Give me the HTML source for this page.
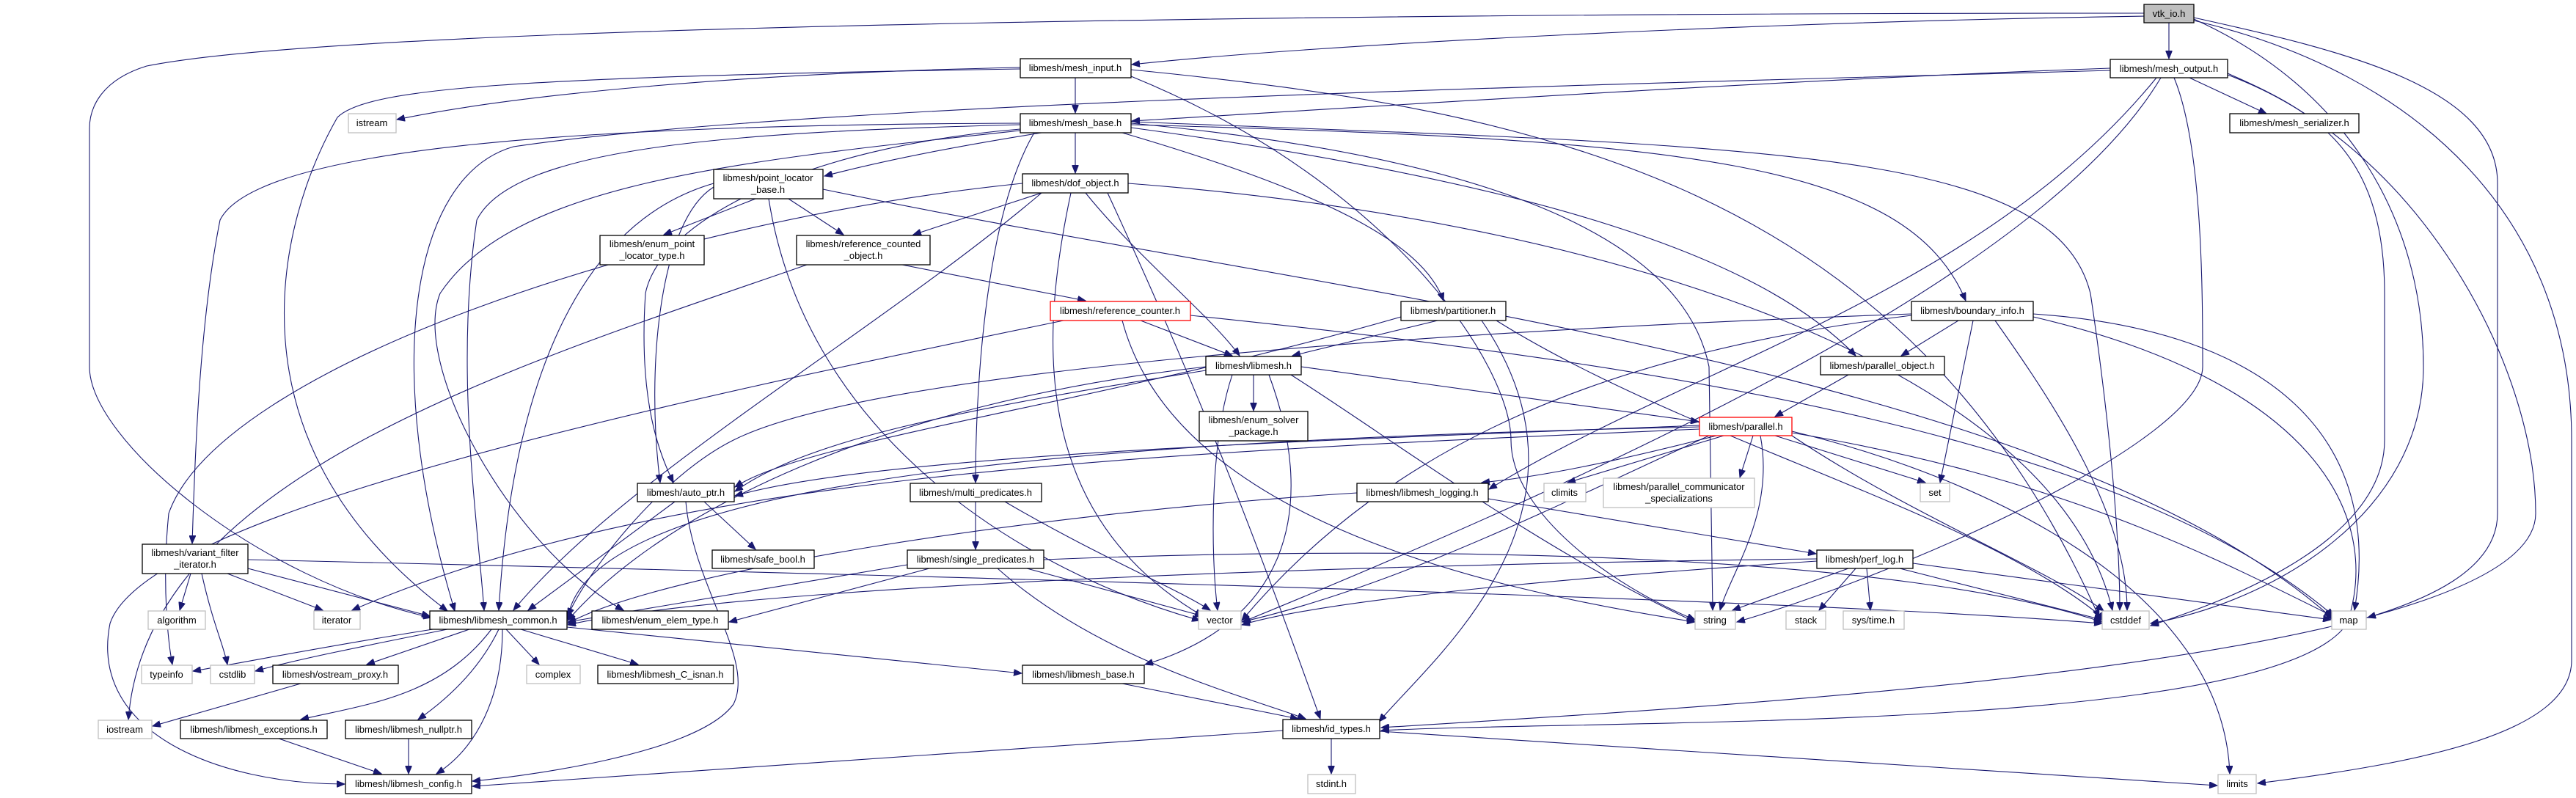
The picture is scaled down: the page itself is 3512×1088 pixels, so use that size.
<!DOCTYPE html>
<html><head><meta charset="utf-8"><style>
html,body{margin:0;padding:0;background:#fff;}
svg{display:block;}
text{font-family:"Liberation Sans",sans-serif;font-size:13px;fill:#000;text-anchor:middle;}
.e{fill:none;stroke:#191970;stroke-width:1.1;marker-end:url(#a);}
.n{fill:#fff;stroke:#000;stroke-width:1.3;}
.x{fill:#fff;stroke:#bfbfbf;stroke-width:1.3;}
.r{fill:#fff;stroke:#ff0000;stroke-width:1.3;}
</style></head><body>
<svg width="3512" height="1088" viewBox="0 0 3512 1088" xmlns="http://www.w3.org/2000/svg">
<defs><marker id="a" markerWidth="12" markerHeight="9" refX="11" refY="4.5" orient="auto" markerUnits="userSpaceOnUse"><path d="M0,0 L11,4.5 L0,9 Z" fill="#191970" stroke="#191970"/></marker></defs>
<g>
<path class="e" d="M2957,31 L2957,80"/>
<path class="e" d="M2923,22 C2400,30 1800,60 1543,88"/>
<path class="e" d="M2923,18 C2000,18 500,30 200,90 C135,110 122,150 122,175 L122,500 C122,600 350,790 588,842"/>
<path class="e" d="M2991,24 C3200,70 3405,120 3405,250 L3405,700 C3405,780 3300,820 3228,842"/>
<path class="e" d="M2991,26 C3200,120 3304,300 3304,500 C3304,700 3100,820 2932,850"/>
<path class="e" d="M2991,28 C3300,100 3506,300 3506,600 L3506,900 C3506,1000 3300,1040 3078,1068"/>
<path class="e" d="M2877,93 C2400,110 1800,150 1543,165"/>
<path class="e" d="M2985,106 L3090,155"/>
<path class="e" d="M2877,96 C2200,115 1100,140 700,200 C560,240 520,500 620,833"/>
<path class="e" d="M2946,106 C2800,350 2300,600 1694,848"/>
<path class="e" d="M2964,106 C3003,200 3003,400 3003,500 C3003,600 2600,780 2368,848"/>
<path class="e" d="M3037,100 C3150,150 3251,200 3251,400 L3251,600 C3251,750 3000,830 2932,853"/>
<path class="e" d="M2940,106 C2700,400 2300,500 2030,667"/>
<path class="e" d="M3037,102 C3300,200 3457,500 3457,700 C3457,900 2400,960 1883,992"/>
<path class="e" d="M1466,106 L1466,154"/>
<path class="e" d="M1391,92 C1000,100 700,130 541,163"/>
<path class="e" d="M1391,94 C700,105 500,120 460,160 C380,300 300,600 610,833"/>
<path class="e" d="M1542,95 C2100,150 2600,250 2862,842"/>
<path class="e" d="M1542,104 C1900,250 2060,500 2060,600 C2060,700 2200,800 2311,845"/>
<path class="e" d="M1420,181 C1300,200 1200,220 1124,240"/>
<path class="e" d="M1466,181 L1466,236"/>
<path class="e" d="M1530,181 C1800,260 1940,330 1968,410"/>
<path class="e" d="M1542,170 C2300,190 2600,220 2680,410"/>
<path class="e" d="M1542,174 C2100,250 2400,350 2530,485"/>
<path class="e" d="M1391,170 C1000,180 700,200 650,300 C620,500 650,700 660,832"/>
<path class="e" d="M1391,176 C1100,200 900,300 880,400 C870,550 900,620 918,658"/>
<path class="e" d="M1391,168 C800,170 350,200 300,300 C270,450 265,650 262,741"/>
<path class="e" d="M1410,181 C1340,300 1330,550 1330,658"/>
<path class="e" d="M1391,178 C1000,220 700,250 600,400 C560,500 700,750 850,832"/>
<path class="e" d="M1542,166 C2400,200 2800,200 2850,400 C2880,600 2890,750 2890,832"/>
<path class="e" d="M1542,168 C2100,220 2300,350 2330,500 L2335,832"/>
<path class="e" d="M1030,271 L905,320"/>
<path class="e" d="M1075,271 L1150,320"/>
<path class="e" d="M973,250 C800,300 700,500 680,832"/>
<path class="e" d="M973,255 C900,300 880,500 900,658"/>
<path class="e" d="M1048,271 C1100,600 1400,780 1636,846"/>
<path class="e" d="M1122,258 C1800,400 2800,500 3182,845"/>
<path class="e" d="M1420,263 L1245,320"/>
<path class="e" d="M1480,263 C1550,350 1650,430 1690,485"/>
<path class="e" d="M1420,263 C1200,450 850,650 700,832"/>
<path class="e" d="M1460,263 C1420,450 1400,700 1640,840"/>
<path class="e" d="M1510,263 C1620,500 1700,700 1800,980"/>
<path class="e" d="M1538,250 C2200,300 2800,500 2880,832"/>
<path class="e" d="M1394,250 C900,300 300,500 230,700 C220,800 230,880 235,906"/>
<path class="e" d="M1230,361 L1480,410"/>
<path class="e" d="M1100,361 C700,500 200,650 175,981"/>
<path class="e" d="M1555,437 L1680,485"/>
<path class="e" d="M1530,437 C1600,700 2000,800 2311,848"/>
<path class="e" d="M1623,430 C2300,500 2900,600 3182,840"/>
<path class="e" d="M1450,437 C900,550 200,700 150,850 C120,1000 300,1069 470,1069"/>
<path class="e" d="M1960,437 L1762,485"/>
<path class="e" d="M1910,432 C1500,550 1100,600 1002,664"/>
<path class="e" d="M2040,437 C2300,600 2700,700 2870,845"/>
<path class="e" d="M2020,437 C2200,700 1950,900 1880,984"/>
<path class="e" d="M2670,437 L2592,485"/>
<path class="e" d="M2690,437 L2645,658"/>
<path class="e" d="M2772,428 C3100,450 3250,600 3210,832"/>
<path class="e" d="M2720,437 C2800,550 2900,700 2900,832"/>
<path class="e" d="M2606,430 C2200,480 1900,600 1693,846"/>
<path class="e" d="M2606,428 C2000,450 1200,500 1000,600 C900,650 800,780 774,840"/>
<path class="e" d="M2772,432 C3150,520 3250,700 3200,850 C3100,1000 2200,980 1883,996"/>
<path class="e" d="M2520,511 L2420,568"/>
<path class="e" d="M1709,511 L1709,560"/>
<path class="e" d="M1774,500 L2316,575"/>
<path class="e" d="M1644,500 C1200,550 900,700 774,846"/>
<path class="e" d="M1644,505 C1300,560 1100,600 1002,670"/>
<path class="e" d="M1680,511 C1650,600 1650,750 1660,832"/>
<path class="e" d="M1760,511 C1900,600 2100,750 2311,848"/>
<path class="e" d="M1730,511 C1800,700 1750,850 1561,906"/>
<path class="e" d="M2317,580 C1800,600 1200,620 1002,676"/>
<path class="e" d="M2340,594 C2200,630 2100,650 2020,658"/>
<path class="e" d="M2350,594 L2137,658"/>
<path class="e" d="M2390,594 L2372,651"/>
<path class="e" d="M2420,594 L2625,658"/>
<path class="e" d="M2443,590 C2800,650 3000,750 3180,840"/>
<path class="e" d="M2443,594 C2600,700 2800,780 2868,833"/>
<path class="e" d="M2400,594 C2420,700 2360,780 2345,832"/>
<path class="e" d="M2330,594 C2100,700 1900,800 1693,848"/>
<path class="e" d="M2443,588 C2700,650 3030,800 3040,1055"/>
<path class="e" d="M2317,585 C1500,620 900,650 480,832"/>
<path class="e" d="M2317,582 C1500,600 800,650 774,844"/>
<path class="e" d="M1850,672 C1400,700 900,780 774,850"/>
<path class="e" d="M2029,680 L2476,755"/>
<path class="e" d="M2477,762 C1800,770 1000,800 774,852"/>
<path class="e" d="M2477,765 C2100,790 1800,820 1693,852"/>
<path class="e" d="M2520,775 L2362,832"/>
<path class="e" d="M2530,775 L2480,832"/>
<path class="e" d="M2545,775 L2550,832"/>
<path class="e" d="M2590,775 L2866,845"/>
<path class="e" d="M2608,768 L3178,845"/>
<path class="e" d="M1330,684 L1330,749"/>
<path class="e" d="M1370,684 C1500,760 1600,800 1650,832"/>
<path class="e" d="M1237,770 L774,848"/>
<path class="e" d="M1267,775 L994,848"/>
<path class="e" d="M1400,775 L1640,840"/>
<path class="e" d="M1423,763 C2000,740 2600,760 2866,848"/>
<path class="e" d="M1360,775 C1500,900 1700,950 1780,980"/>
<path class="e" d="M920,684 L720,832"/>
<path class="e" d="M960,684 L1030,749"/>
<path class="e" d="M935,684 C945,800 1030,900 1000,960 C950,1030 700,1060 644,1065"/>
<path class="e" d="M260,782 L245,832"/>
<path class="e" d="M310,782 L440,832"/>
<path class="e" d="M338,775 L586,840"/>
<path class="e" d="M275,782 C290,850 305,880 310,906"/>
<path class="e" d="M338,763 C1500,790 2500,820 2866,850"/>
<path class="e" d="M590,858 C450,880 350,900 263,915"/>
<path class="e" d="M610,858 C500,880 400,900 348,915"/>
<path class="e" d="M640,858 L500,906"/>
<path class="e" d="M690,858 L735,906"/>
<path class="e" d="M710,858 L870,906"/>
<path class="e" d="M670,858 C600,950 500,960 410,981"/>
<path class="e" d="M680,858 C650,920 600,960 570,981"/>
<path class="e" d="M685,858 C685,950 650,1020 595,1055"/>
<path class="e" d="M773,855 L1393,918"/>
<path class="e" d="M410,932 L208,990"/>
<path class="e" d="M380,1007 L520,1055"/>
<path class="e" d="M557,1007 L557,1055"/>
<path class="e" d="M1530,932 L1770,980"/>
<path class="e" d="M1815,1007 L1815,1055"/>
<path class="e" d="M1749,996 L644,1072"/>
<path class="e" d="M1881,997 L3023,1071"/>
</g>
<g>
<rect x="2923" y="6" width="68" height="25" fill="#bfbfbf" stroke="#000" stroke-width="1.3"/><text x="2957" y="23">vtk_io.h</text>
<rect class="n" x="2877" y="81" width="160" height="25"/><text x="2957" y="98">libmesh/mesh_output.h</text>
<rect class="n" x="1391" y="80" width="151" height="26"/><text x="1466" y="97">libmesh/mesh_input.h</text>
<rect class="n" x="1391" y="155" width="151" height="26"/><text x="1466" y="172">libmesh/mesh_base.h</text>
<rect class="n" x="3040" y="155" width="176" height="26"/><text x="3128" y="172">libmesh/mesh_serializer.h</text>
<rect class="x" x="475" y="155" width="65" height="26"/><text x="507" y="172">istream</text>
<rect class="n" x="973" y="231" width="149" height="40"/><text x="1047" y="247">libmesh/point_locator</text><text x="1047" y="263">_base.h</text>
<rect class="n" x="1394" y="237" width="144" height="26"/><text x="1466" y="254">libmesh/dof_object.h</text>
<rect class="n" x="818" y="321" width="142" height="40"/><text x="889" y="337">libmesh/enum_point</text><text x="889" y="353">_locator_type.h</text>
<rect class="n" x="1086" y="321" width="182" height="40"/><text x="1177" y="337">libmesh/reference_counted</text><text x="1177" y="353">_object.h</text>
<rect class="r" x="1432" y="411" width="191" height="26"/><text x="1527" y="428">libmesh/reference_counter.h</text>
<rect class="n" x="1910" y="411" width="143" height="26"/><text x="1981" y="428">libmesh/partitioner.h</text>
<rect class="n" x="2606" y="411" width="166" height="26"/><text x="2689" y="428">libmesh/boundary_info.h</text>
<rect class="n" x="1644" y="486" width="130" height="25"/><text x="1709" y="503">libmesh/libmesh.h</text>
<rect class="n" x="2482" y="486" width="169" height="25"/><text x="2566" y="503">libmesh/parallel_object.h</text>
<rect class="n" x="1635" y="561" width="148" height="40"/><text x="1709" y="577">libmesh/enum_solver</text><text x="1709" y="593">_package.h</text>
<rect class="r" x="2317" y="569" width="126" height="25"/><text x="2380" y="586">libmesh/parallel.h</text>
<rect class="n" x="869" y="659" width="132" height="25"/><text x="935" y="676">libmesh/auto_ptr.h</text>
<rect class="n" x="1241" y="659" width="179" height="25"/><text x="1330" y="676">libmesh/multi_predicates.h</text>
<rect class="n" x="1850" y="659" width="179" height="25"/><text x="1939" y="676">libmesh/libmesh_logging.h</text>
<rect class="x" x="2105" y="659" width="57" height="25"/><text x="2133" y="676">climits</text>
<rect class="x" x="2186" y="652" width="206" height="40"/><text x="2289" y="668">libmesh/parallel_communicator</text><text x="2289" y="684">_specializations</text>
<rect class="x" x="2618" y="659" width="40" height="25"/><text x="2638" y="676">set</text>
<rect class="n" x="194" y="742" width="144" height="40"/><text x="266" y="758">libmesh/variant_filter</text><text x="266" y="774">_iterator.h</text>
<rect class="n" x="971" y="750" width="139" height="25"/><text x="1040" y="767">libmesh/safe_bool.h</text>
<rect class="n" x="1237" y="750" width="186" height="25"/><text x="1330" y="767">libmesh/single_predicates.h</text>
<rect class="n" x="2477" y="750" width="131" height="25"/><text x="2542" y="767">libmesh/perf_log.h</text>
<rect class="x" x="202" y="833" width="78" height="25"/><text x="241" y="850">algorithm</text>
<rect class="x" x="428" y="833" width="63" height="25"/><text x="459" y="850">iterator</text>
<rect class="n" x="586" y="833" width="187" height="25"/><text x="679" y="850">libmesh/libmesh_common.h</text>
<rect class="n" x="807" y="833" width="186" height="25"/><text x="900" y="850">libmesh/enum_elem_type.h</text>
<rect class="x" x="1634" y="833" width="58" height="25"/><text x="1663" y="850">vector</text>
<rect class="x" x="2311" y="833" width="55" height="25"/><text x="2338" y="850">string</text>
<rect class="x" x="2435" y="833" width="54" height="25"/><text x="2462" y="850">stack</text>
<rect class="x" x="2513" y="833" width="83" height="25"/><text x="2554" y="850">sys/time.h</text>
<rect class="x" x="2866" y="833" width="64" height="25"/><text x="2898" y="850">cstddef</text>
<rect class="x" x="3179" y="833" width="47" height="25"/><text x="3202" y="850">map</text>
<rect class="x" x="193" y="907" width="69" height="25"/><text x="227" y="924">typeinfo</text>
<rect class="x" x="287" y="907" width="60" height="25"/><text x="317" y="924">cstdlib</text>
<rect class="n" x="372" y="907" width="171" height="25"/><text x="457" y="924">libmesh/ostream_proxy.h</text>
<rect class="x" x="718" y="907" width="73" height="25"/><text x="754" y="924">complex</text>
<rect class="n" x="815" y="907" width="185" height="25"/><text x="907" y="924">libmesh/libmesh_C_isnan.h</text>
<rect class="n" x="1394" y="907" width="166" height="25"/><text x="1477" y="924">libmesh/libmesh_base.h</text>
<rect class="x" x="134" y="982" width="73" height="25"/><text x="170" y="999">iostream</text>
<rect class="n" x="246" y="982" width="200" height="25"/><text x="346" y="999">libmesh/libmesh_exceptions.h</text>
<rect class="n" x="471" y="982" width="172" height="25"/><text x="557" y="999">libmesh/libmesh_nullptr.h</text>
<rect class="n" x="1749" y="981" width="132" height="26"/><text x="1815" y="998">libmesh/id_types.h</text>
<rect class="n" x="471" y="1056" width="172" height="26"/><text x="557" y="1073">libmesh/libmesh_config.h</text>
<rect class="x" x="1783" y="1056" width="65" height="26"/><text x="1815" y="1073">stdint.h</text>
<rect class="x" x="3024" y="1056" width="52" height="26"/><text x="3050" y="1073">limits</text>
</g>
</svg>
</body></html>
